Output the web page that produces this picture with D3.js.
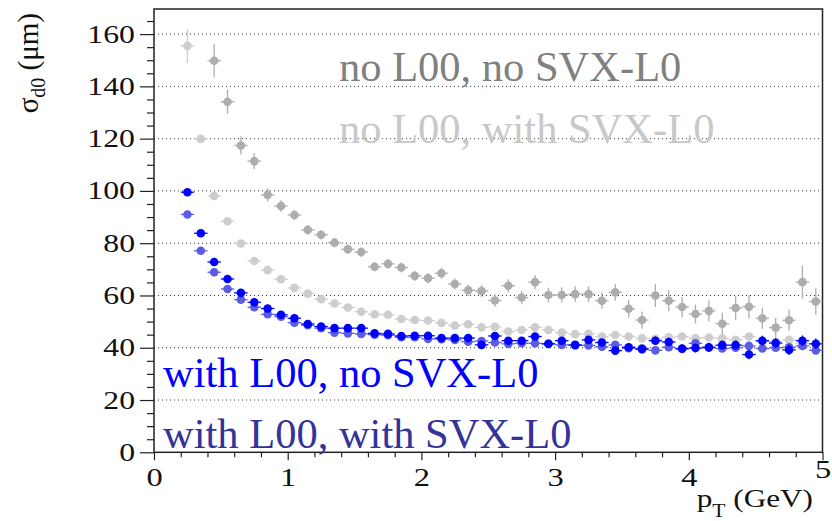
<!DOCTYPE html>
<html>
<head>
<meta charset="utf-8">
<script src="https://cdn.jsdelivr.net/npm/d3@7"></script>
<style>
  body { margin: 0; background: #fff; }
</style>
</head>
<body>
<div id="chart"></div>
<script>
// bin centres (GeV)
const pt = [0.25,0.35,0.45,0.55,0.65,0.75,0.85,0.95,1.05,1.15,1.25,1.35,1.45,1.55,1.65,1.75,1.85,1.95,
  2.05,2.15,2.25,2.35,2.45,2.55,2.65,2.75,2.85,2.95,3.05,3.15,3.25,3.35,3.45,3.55,3.65,3.75,3.85,3.95,
  4.05,4.15,4.25,4.35,4.45,4.55,4.65,4.75,4.85,4.95];

// no L00, no SVX-L0
const noL00NoSvx = [null,null,149.8,134.1,117.4,111.4,98.5,94.2,90.8,85.1,83.2,80.2,77.7,76.6,71.0,72.1,70.7,67.5,
  66.6,68.5,64.4,62.0,61.7,58.1,63.7,59.2,65.1,60.2,60.2,60.5,60.5,58.0,61.2,54.9,50.6,60.0,58.0,55.6,
  52.9,54.1,49.2,55.2,55.7,51.3,47.7,50.5,65.1,57.7];
const noL00NoSvxErr = [0,0,6.3,4.6,3.5,3.0,2.5,2.2,2.0,1.9,1.8,1.8,1.8,1.8,1.8,1.8,1.9,1.9,
  2.0,2.1,2.1,2.2,2.3,2.4,2.5,2.6,2.7,2.8,2.9,3.0,3.0,3.1,3.2,3.3,3.3,4.4,4.0,3.8,
  3.6,4.0,4.2,4.5,4.5,4.0,3.8,4.0,6.4,5.1];

// no L00, with SVX-L0
const noL00WithSvx = [155.5,119.9,98.1,88.4,79.9,73.2,69.7,66.2,62.9,60.7,58.6,56.9,55.4,53.8,52.8,52.6,51.0,50.6,
  50.4,49.5,48.5,49.0,47.8,48.0,46.2,46.8,47.8,46.8,45.8,45.2,45.3,44.3,44.9,44.3,43.6,43.4,44.0,44.3,
  43.6,43.9,43.6,43.0,44.3,42.3,42.3,43.0,41.7,41.5];
const noL00WithSvxErr = [6.5,1.0,0.9,0.8,0.8,0.8,0.8,0.8,0.8,0.8,0.8,0.8,0.8,0.8,0.8,0.8,0.8,0.8,
  0.9,0.9,0.9,0.9,0.9,0.9,1.0,1.0,1.0,1.0,1.0,1.0,1.0,1.1,1.1,1.1,1.1,1.2,1.2,1.2,
  1.2,1.2,1.3,1.3,1.3,1.3,1.4,1.4,1.4,1.4];

// with L00, no SVX-L0
const withL00NoSvx = [99.5,83.8,72.8,66.3,61.0,57.4,55.0,52.6,51.3,49.1,48.1,47.5,47.5,47.5,45.5,45.3,44.5,44.6,
  44.6,43.7,43.7,43.7,41.1,44.5,42.7,42.7,44.3,41.5,42.7,41.1,43.0,42.0,38.9,40.2,39.4,42.7,42.2,39.7,
  39.9,40.2,41.0,41.0,37.4,42.7,41.8,39.2,42.7,41.5];
const withL00NoSvxErr = [1.3,1.0,1.0,1.0,1.0,1.0,1.0,1.0,1.0,1.0,1.0,1.0,1.0,1.0,1.0,1.0,1.0,1.0,
  1.1,1.1,1.1,1.1,1.2,1.2,1.2,1.2,1.3,1.3,1.3,1.4,1.4,1.4,1.5,1.5,1.5,1.6,1.6,1.6,
  1.7,1.7,1.8,1.8,1.8,1.9,1.9,2.0,2.0,2.0];

// with L00, with SVX-L0
const withL00WithSvx = [91.0,77.1,68.9,62.5,58.4,55.5,52.8,51.9,49.6,48.6,47.5,45.8,45.5,45.3,45.0,44.8,44.0,44.0,
  43.4,43.3,43.0,42.3,42.6,42.0,41.5,41.7,41.7,41.5,41.1,40.9,40.9,40.4,41.1,39.8,39.8,39.0,40.2,39.5,
  41.7,40.0,39.7,40.0,40.7,39.7,40.0,40.2,40.7,39.0];
const withL00WithSvxErr = [0.9,0.7,0.7,0.7,0.7,0.7,0.7,0.7,0.7,0.7,0.7,0.7,0.7,0.7,0.7,0.7,0.7,0.7,
  0.7,0.7,0.7,0.7,0.8,0.8,0.8,0.8,0.8,0.8,0.8,0.8,0.9,0.9,0.9,0.9,0.9,0.9,1.0,1.0,
  1.0,1.0,1.0,1.0,1.1,1.1,1.1,1.1,1.1,1.2];

const yTicks = [0,20,40,60,80,100,120,140,160];
const xTicks = [0,1,2,3,4,5];

const width = 832, height = 521;
const margin = { top: 9, right: 9.5, bottom: 68.7, left: 154 };
const binHalf = 0.05;
const serif = "'Liberation Serif'";

// widen glyphs horizontally (axis labels in the original are drawn wide)
function stretch(sel, k) {
  sel.each(function() {
    const len = this.getComputedTextLength();
    d3.select(this).attr("textLength", len * k).attr("lengthAdjust", "spacingAndGlyphs");
  });
}

const svg = d3.select("#chart").append("svg")
  .attr("width", width)
  .attr("height", height);

const x = d3.scaleLinear().domain([0, 5]).range([margin.left, width - margin.right]);
const y = d3.scaleLinear().domain([0, 169.6]).range([height - margin.bottom, margin.top]);

// dotted grid
svg.append("g")
  .selectAll("line")
  .data(yTicks.filter(d => d > 0))
  .join("line")
  .attr("x1", x(0)).attr("x2", x(5))
  .attr("y1", d => y(d)).attr("y2", d => y(d))
  .attr("stroke", "#333")
  .attr("stroke-width", 1)
  .attr("stroke-dasharray", "1,3");

// frame
svg.append("rect")
  .attr("x", x(0)).attr("y", y(169.6))
  .attr("width", x(5) - x(0)).attr("height", y(0) - y(169.6))
  .attr("fill", "none")
  .attr("stroke", "#222")
  .attr("stroke-width", 1.5);

// y axis
const yAxis = svg.append("g")
  .attr("transform", `translate(${x(0)},0)`)
  .call(d3.axisLeft(y).tickValues(yTicks).tickSize(14).tickPadding(5).tickFormat(d3.format("d")));
yAxis.attr("font-family", null);
yAxis.select(".domain").remove();
yAxis.selectAll("line").attr("stroke", "#222").attr("stroke-width", 1.2);
yAxis.selectAll("text").attr("font-size", 25).attr("fill", "#111").style("font-family", serif)
  .call(stretch, 1.27);

svg.append("g")
  .attr("transform", `translate(${x(0)},0)`)
  .call(d3.axisLeft(y).tickValues(d3.range(0, 166, 5).filter(d => d % 20 !== 0)).tickSize(7).tickFormat(""))
  .call(g => g.select(".domain").remove())
  .selectAll("line").attr("stroke", "#222").attr("stroke-width", 1.2);

// x axis
const xAxis = svg.append("g")
  .attr("transform", `translate(0,${y(0)})`)
  .call(d3.axisBottom(x).tickValues(xTicks).tickSize(8).tickPadding(8).tickFormat(d3.format("d")));
xAxis.attr("font-family", null);
xAxis.select(".domain").remove();
xAxis.selectAll("line").attr("stroke", "#222").attr("stroke-width", 1.2);
xAxis.selectAll("text").attr("font-size", 25).attr("fill", "#111").style("font-family", serif)
  .call(stretch, 1.3);
xAxis.selectAll("text").filter(d => d === 5).attr("y", 8);

svg.append("g")
  .attr("transform", `translate(0,${y(0)})`)
  .call(d3.axisBottom(x).tickValues(d3.range(0, 25).map(i => i * 0.2).filter(d => Math.abs(d - Math.round(d)) > 1e-6)).tickSize(5).tickFormat(""))
  .call(g => g.select(".domain").remove())
  .selectAll("line").attr("stroke", "#222").attr("stroke-width", 1.2);

// axis titles
const yTitle = svg.append("text")
  .attr("transform", `translate(38,13) rotate(-90)`)
  .attr("text-anchor", "end")
  .attr("font-size", 29)
  .attr("fill", "#111")
  .style("font-family", serif);
yTitle.append("tspan").text("σ");
yTitle.append("tspan").attr("font-size", 20).attr("dy", 7).text("d0");
yTitle.append("tspan").attr("dy", -7).text(" (μm)");

const xTitle = svg.append("text")
  .attr("transform", "translate(813,507) scale(1.2,1)")
  .attr("text-anchor", "end")
  .attr("font-size", 26)
  .attr("fill", "#111")
  .style("font-family", serif);
xTitle.append("tspan").text("p");
xTitle.append("tspan").attr("font-size", 18).attr("dy", 10).text("T");
xTitle.append("tspan").attr("dy", -10).text(" (GeV)");

// series
const series = [
  { vals: noL00NoSvx, errs: noL00NoSvxErr, color: "#adadad" },
  { vals: noL00WithSvx, errs: noL00WithSvxErr, color: "#cdcdcd" },
  { vals: withL00WithSvx, errs: withL00WithSvxErr, color: "#5b5be3" },
  { vals: withL00NoSvx, errs: withL00NoSvxErr, color: "#0000ff" }
];

series.forEach(s => {
  const pts = pt.map((p, i) => ({ p, v: s.vals[i], e: s.errs[i] })).filter(d => d.v != null);
  const g = svg.append("g");
  g.selectAll(".ex").data(pts).join("line")
    .attr("x1", d => x(d.p - binHalf)).attr("x2", d => x(d.p + binHalf))
    .attr("y1", d => y(d.v)).attr("y2", d => y(d.v))
    .attr("stroke", s.color).attr("stroke-width", 1.3);
  g.selectAll(".ey").data(pts).join("line")
    .attr("x1", d => x(d.p)).attr("x2", d => x(d.p))
    .attr("y1", d => y(d.v - d.e)).attr("y2", d => y(d.v + d.e))
    .attr("stroke", s.color).attr("stroke-width", 1.3);
  g.selectAll("circle").data(pts).join("circle")
    .attr("cx", d => x(d.p)).attr("cy", d => y(d.v))
    .attr("r", 4.3)
    .attr("fill", s.color);
});

// labels
const labels = [
  { text: "no L00, no SVX-L0", x: 339, y: 81, color: "#808080" },
  { text: "no L00, with SVX-L0", x: 339, y: 143, color: "#c8c8c8" },
  { text: "with L00, no SVX-L0", x: 163, y: 387, color: "#0000ff" },
  { text: "with L00, with SVX-L0", x: 163, y: 448, color: "#333399" }
];
svg.append("g").selectAll("text").data(labels).join("text")
  .attr("x", d => d.x).attr("y", d => d.y)
  .attr("font-size", 42.5)
  .attr("fill", d => d.color)
  .style("font-family", serif)
  .text(d => d.text);
</script>
</body>
</html>
